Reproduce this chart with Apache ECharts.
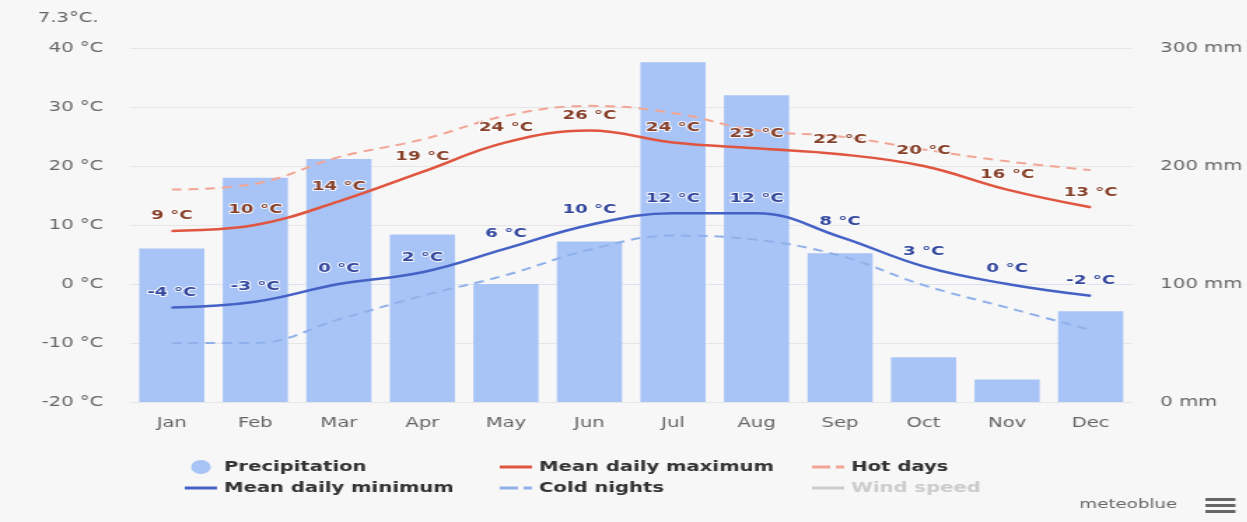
<!DOCTYPE html>
<html>
<head>
<meta charset="utf-8">
<script src="https://cdn.jsdelivr.net/npm/echarts@6/dist/echarts.min.js"></script>
<style>
html,body{margin:0;padding:0;background:#f7f7f7;overflow:hidden;width:1247px;height:522px;}
#c{width:890.71px;height:522px;transform:scaleX(1.4);transform-origin:0 0;}
</style>
</head>
<body>
<div id="c"></div>
<script>
const months = ['Jan','Feb','Mar','Apr','May','Jun','Jul','Aug','Sep','Oct','Nov','Dec'];
const precipitation = [130, 190, 206, 142, 100, 136, 288, 260, 126, 38, 19, 77];
const meanMax = [9, 10, 14, 19, 24, 26, 24, 23, 22, 20, 16, 13];
const meanMin = [-4, -3, 0, 2, 6, 10, 12, 12, 8, 3, 0, -2];
const hotDays = [16, 17, 21.5, 24.5, 28.5, 30.2, 29, 26, 25, 22.8, 20.8, 19.3];
const coldNights = [-10, -10, -6, -2, 1.5, 5.8, 8.2, 7.5, 4.8, -0.2, -4, -7.8];
const tempTicks = [-20, -10, 0, 10, 20, 30, 40];
const precTicks = [0, 100, 200, 300];

const chart = echarts.init(document.getElementById('c'));
const fmtT = v => v + ' °C';
const FONT = 'DejaVu Sans';
const legendText = {color:'#333', fontSize:14, fontWeight:'bold', fontFamily:FONT};
const lineIcon = 'path://M0,0h23v3h-23z';
const dashIcon = 'path://M0,0h13v3h-13zM17,0h6v3h-6z';
const legendBase = {orient:'vertical', itemGap:7, itemWidth:23, itemHeight:14, top:455,
  textStyle:legendText, inactiveColor:'#ccc', symbolKeepAspect:true};
const labelStyle = (color) => ({show:true, position:'top', distance:8, formatter: p => fmtT(p.value), color:color,
  fontSize:13, fontWeight:'bold', fontFamily:FONT, textBorderColor:'rgba(255,255,255,0.85)', textBorderWidth:2});

chart.setOption({
  backgroundColor:'#f7f7f7',
  animation:false,
  grid:{left:92.86, right:82.14, top:48, bottom:120},
  xAxis:{
    type:'category', data:months,
    axisLine:{show:true, lineStyle:{color:'#dde3ef'}},
    axisTick:{show:false},
    axisLabel:{color:'#666', fontSize:14, fontFamily:FONT, margin:14}
  },
  yAxis:[{
    type:'value', min:tempTicks[0], max:tempTicks[tempTicks.length-1], interval:10,
    axisLabel:{color:'#666', fontSize:14, fontFamily:FONT, margin:19, formatter:fmtT},
    splitLine:{lineStyle:{color:'#e6e6e6'}},
    axisLine:{show:false}, axisTick:{show:false}
  },{
    type:'value', min:precTicks[0], max:precTicks[precTicks.length-1], interval:100,
    position:'right',
    axisLabel:{color:'#666', fontSize:14, fontFamily:FONT, margin:20, formatter: v => v + ' mm'},
    splitLine:{show:false}, axisLine:{show:false}, axisTick:{show:false}
  }],
  legend:[
    Object.assign({left:127, data:[{name:'Precipitation', icon:'circle'}, {name:'Mean daily minimum', icon:lineIcon}]}, legendBase),
    Object.assign({left:352, data:[{name:'Mean daily maximum', icon:lineIcon}, {name:'Cold nights', icon:dashIcon}]}, legendBase),
    Object.assign({left:575, data:[{name:'Hot days', icon:dashIcon}, {name:'Wind speed', icon:lineIcon}], selected:{'Wind speed':false}}, legendBase)
  ],
  series:[
    {name:'Precipitation', type:'bar', yAxisIndex:1, data:precipitation, barCategoryGap:'22%',
     itemStyle:{color:'#a8c4f6'}},
    {name:'Hot days', type:'line', data:hotDays, smooth:0.4, symbol:'none',
     lineStyle:{color:'#f2a594', width:2, type:[7,5]}, itemStyle:{color:'#f2a594'}},
    {name:'Cold nights', type:'line', data:coldNights, smooth:0.4, symbol:'none',
     lineStyle:{color:'#8fb0ea', width:2, type:[7,5]}, itemStyle:{color:'#8fb0ea'}},
    {name:'Mean daily maximum', type:'line', data:meanMax, smooth:0.4, symbol:'circle', symbolSize:1, showSymbol:true,
     lineStyle:{color:'#e0553f', width:2.5}, itemStyle:{color:'#e0553f'},
     label:labelStyle('#86402a')},
    {name:'Mean daily minimum', type:'line', data:meanMin, smooth:0.4, symbol:'circle', symbolSize:1, showSymbol:true,
     lineStyle:{color:'#4461c6', width:2.5}, itemStyle:{color:'#4461c6'},
     label:labelStyle('#33479d')},
    {name:'Wind speed', type:'line', data:[], symbol:'none', lineStyle:{color:'#bbb', width:2}, itemStyle:{color:'#bbb'}}
  ],
  graphic:[
    {type:'text', left:27, top:11, style:{text:'7.3°C.', fill:'#666', font:'14px DejaVu Sans'}},
    {type:'text', left:771, top:498, style:{text:'meteoblue', fill:'#666', font:'13px DejaVu Sans'}},
    {type:'rect', left:861, top:498, shape:{width:21.4, height:3}, style:{fill:'#666'}},
    {type:'rect', left:861, top:504, shape:{width:21.4, height:3}, style:{fill:'#666'}},
    {type:'rect', left:861, top:510, shape:{width:21.4, height:3}, style:{fill:'#666'}}
  ]
});
</script>
</body>
</html>
